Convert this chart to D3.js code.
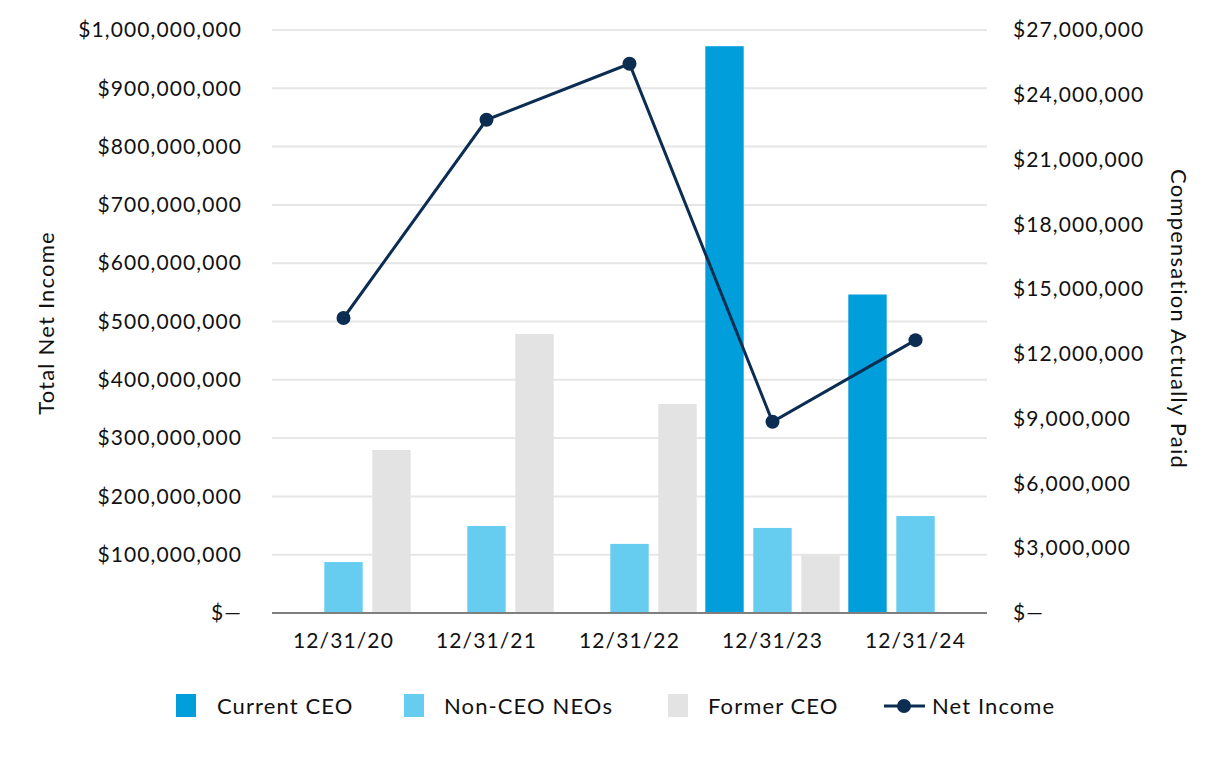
<!DOCTYPE html>
<html><head><meta charset="utf-8">
<script src="https://cdn.jsdelivr.net/npm/d3@7"></script>
<style>body{margin:0;background:#fff}svg{display:block}text{font-family:Lato,"Open Sans",sans-serif;fill:#111}</style>
</head><body><svg id="c" width="1226" height="760"></svg>
<script>
const categories = ["12/31/20","12/31/21","12/31/22","12/31/23","12/31/24"];
const seriesNames = ["Current CEO","Non-CEO NEOs","Former CEO"];
const currentCEO = [null, null, null, 26250000, 14750000];
const nonCEONEOs = [2360000, 4030000, 3200000, 3940000, 4490000];
const formerCEO = [7550000, 12920000, 9680000, 2690000, null];
const netIncome = [506000000, 846000000, 942000000, 328000000, 468000000];
const leftTicks = [0,100e6,200e6,300e6,400e6,500e6,600e6,700e6,800e6,900e6,1000e6];
const rightTicks = [0,3e6,6e6,9e6,12e6,15e6,18e6,21e6,24e6,27e6];
const colors = ["#009fdb","#66cdf0","#e3e3e3"];
const lineColor = "#0c2d52";

const svg = d3.select("#c");
const L = 272, R = 987, T = 30, B = 613;
const x = d3.scaleBand().domain(categories).range([L,R]);
const yL = d3.scaleLinear().domain([0,1e9]).range([B,T]);
const yR = d3.scaleLinear().domain([0,27e6]).range([B,T]);
const fmt = v => v === 0 ? "$\u2014" : "$" + d3.format(",")(v);
const styleText = sel => sel.attr("font-size",21).attr("font-family","Lato").attr("fill","#111").attr("letter-spacing","1.1px");

// gridlines
svg.append("g").selectAll("line").data(leftTicks.slice(1)).join("line")
  .attr("x1",L).attr("x2",R).attr("y1",d=>yL(d)).attr("y2",d=>yL(d))
  .attr("stroke","#e6e6e6").attr("stroke-width",2);

// left axis
const gl = svg.append("g").attr("transform",`translate(${L},0)`)
  .call(d3.axisLeft(yL).tickValues(leftTicks).tickFormat(fmt).tickSize(0).tickPadding(30));
gl.select(".domain").remove();
styleText(gl.selectAll("text"));

const gr = svg.append("g").attr("transform",`translate(${R},0)`)
  .call(d3.axisRight(yR).tickValues(rightTicks).tickFormat(fmt).tickSize(0).tickPadding(26));
gr.select(".domain").remove();
styleText(gr.selectAll("text"));

// bars
const sub = d3.scaleBand().domain(seriesNames).range([-72,72]).paddingInner(0.2).paddingOuter(0.1);
const seriesData = [currentCEO, nonCEONEOs, formerCEO];
seriesData.forEach((arr,si)=>{
  svg.append("g").selectAll("rect").data(arr.map((v,i)=>({v,c:categories[i]})).filter(d=>d.v!=null))
    .join("rect")
    .attr("x",d=>x(d.c)+x.bandwidth()/2 + sub(seriesNames[si]))
    .attr("width",sub.bandwidth())
    .attr("y",d=>yR(d.v)).attr("height",d=>B-yR(d.v))
    .attr("fill",colors[si]);
});

// baseline
svg.append("line").attr("x1",L).attr("x2",R).attr("y1",B).attr("y2",B)
  .attr("stroke","#7f7f7f").attr("stroke-width",2);

// x axis labels
const gx = svg.append("g").attr("transform",`translate(0,${B})`)
  .call(d3.axisBottom(x).tickSize(0).tickPadding(20));
gx.select(".domain").remove();
styleText(gx.selectAll("text"));

// line
const line = d3.line().x((d,i)=>x(categories[i])+x.bandwidth()/2).y(d=>yL(d));
svg.append("path").datum(netIncome).attr("d",line).attr("fill","none")
  .attr("stroke",lineColor).attr("stroke-width",3);
svg.append("g").selectAll("circle").data(netIncome).join("circle")
  .attr("cx",(d,i)=>x(categories[i])+x.bandwidth()/2).attr("cy",d=>yL(d)).attr("r",7)
  .attr("fill",lineColor);

// axis titles
svg.append("text").attr("transform","translate(54,323) rotate(-90)").attr("text-anchor","middle")
  .attr("font-size",22).attr("letter-spacing","1.2px").text("Total Net Income");
svg.append("text").attr("transform","translate(1171,319) rotate(90)").attr("text-anchor","middle")
  .attr("font-size",22).attr("letter-spacing","1.2px").text("Compensation Actually Paid");

// legend
const lg = svg.append("g");
const legItems = [
  {name:seriesNames[0], sx:176, tx:217, color:colors[0]},
  {name:seriesNames[1], sx:404, tx:444, color:colors[1]},
  {name:seriesNames[2], sx:668, tx:708, color:colors[2]}
];
legItems.forEach(it=>{
  lg.append("rect").attr("x",it.sx).attr("y",694).attr("width",20).attr("height",23).attr("fill",it.color);
  lg.append("text").attr("x",it.tx).attr("y",714).attr("font-size",22).attr("letter-spacing","1.1px").text(it.name);
});
lg.append("line").attr("x1",884).attr("x2",925).attr("y1",706).attr("y2",706).attr("stroke",lineColor).attr("stroke-width",3);
lg.append("circle").attr("cx",904).attr("cy",706).attr("r",7).attr("fill",lineColor);
lg.append("text").attr("x",932).attr("y",714).attr("font-size",22).attr("letter-spacing","1.1px").text("Net Income");
</script></body></html>
